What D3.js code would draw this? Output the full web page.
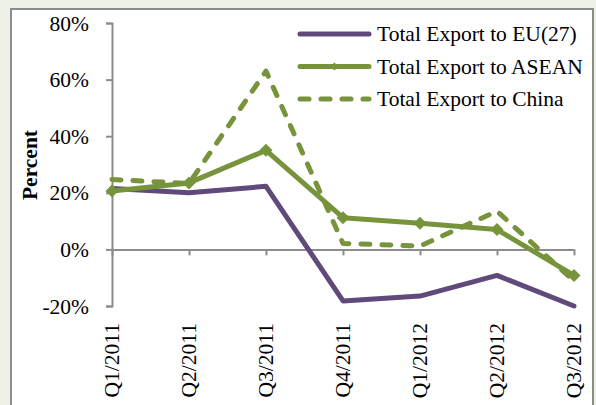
<!DOCTYPE html>
<html>
<head>
<meta charset="utf-8">
<script src="https://cdn.jsdelivr.net/npm/d3@7/dist/d3.min.js"></script>
<style>
  html, body { margin: 0; padding: 0; background: #eff2e8; }
  svg { display: block; }
  text { font-family: "Liberation Serif", "Times New Roman", serif; fill: #000; }
</style>
</head>
<body>
<svg id="chart" width="596" height="405"></svg>
<script>
// Quarterly export growth, percent change
const quarters = ["Q1/2011", "Q2/2011", "Q3/2011", "Q4/2011", "Q1/2012", "Q2/2012", "Q3/2012"];
const exportEU = [21.5, 20.0, 22.3, -18.2, -16.5, -9.2, -20.0];
const exportASEAN = [20.6, 23.5, 35.0, 11.2, 9.2, 7.0, -9.2];
const exportChina = [24.7, 23.3, 63.0, 2.1, 1.2, 13.5, -11.2];
const yTicks = [-20, 0, 20, 40, 60, 80];
const seriesNames = ["Total Export to EU(27)", "Total Export to ASEAN", "Total Export to China"];

const purple = "#604a7b";
const green = "#77933c";
const axisGrey = "#8c8c8c";
const fontSize = 21.5;
const lineWidth = 5;

const svg = d3.select("#chart");

// chart area panel
svg.append("rect")
  .attr("x", 11).attr("y", 9)
  .attr("width", 582).attr("height", 420)
  .attr("fill", "#ffffff")
  .attr("stroke", axisGrey).attr("stroke-width", 2);

const x = d3.scalePoint().domain(quarters).range([112, 574]);
const y = d3.scaleLinear().domain([-20, 80]).range([306, 23]);

// y axis
const yAxis = svg.append("g").attr("transform", "translate(112,0)")
  .call(d3.axisLeft(y).tickValues(yTicks).tickSize(6).tickPadding(17)
    .tickFormat(d => d + "%"));
yAxis.select(".domain").attr("stroke", axisGrey).attr("stroke-width", 2);
yAxis.selectAll(".tick line").attr("stroke", axisGrey).attr("stroke-width", 2);
yAxis.selectAll(".tick text")
  .attr("font-size", fontSize).attr("font-family", "Liberation Serif").attr("dy", "0.33em");

// category axis along the zero line
const xAxis = svg.append("g").attr("transform", `translate(0,${y(0)})`)
  .call(d3.axisBottom(x).tickSize(6).tickSizeOuter(0).tickFormat(""));
xAxis.select(".domain").attr("stroke", axisGrey).attr("stroke-width", 2);
xAxis.selectAll(".tick line").attr("stroke", axisGrey).attr("stroke-width", 2);

// category labels below the plot, rotated
svg.append("g").selectAll("text")
  .data(quarters)
  .join("text")
  .attr("transform", d => `translate(${x(d)},${y(-20) + 17}) rotate(-90)`)
  .attr("text-anchor", "end")
  .attr("dy", "0.33em")
  .attr("font-size", fontSize)
  .text(d => d);

// y axis title
svg.append("text")
  .attr("transform", "translate(30,165) rotate(-90)")
  .attr("text-anchor", "middle")
  .attr("dy", "0.33em")
  .attr("font-size", fontSize)
  .attr("font-weight", "bold")
  .text("Percent");

const line = d3.line()
  .x((d, i) => x(quarters[i]))
  .y(d => y(d))
  .curve(d3.curveLinear);

const diamond = "M0,-6.5L6.5,0L0,6.5L-6.5,0Z";

// EU(27)
svg.append("path")
  .attr("d", line(exportEU))
  .attr("fill", "none").attr("stroke", purple).attr("stroke-width", lineWidth)
  .attr("stroke-linejoin", "round").attr("stroke-linecap", "round");

// ASEAN with diamond markers
svg.append("path")
  .attr("d", line(exportASEAN))
  .attr("fill", "none").attr("stroke", green).attr("stroke-width", lineWidth)
  .attr("stroke-linejoin", "round").attr("stroke-linecap", "round");
svg.append("g").selectAll("path")
  .data(exportASEAN)
  .join("path")
  .attr("transform", (d, i) => `translate(${x(quarters[i])},${y(d)})`)
  .attr("d", diamond)
  .attr("fill", green);

// China, dashed
svg.append("path")
  .attr("d", line(exportChina))
  .attr("fill", "none").attr("stroke", green).attr("stroke-width", lineWidth)
  .attr("stroke-dasharray", "9,12")
  .attr("stroke-linejoin", "round").attr("stroke-linecap", "round");

// legend
const legend = svg.append("g");
const legendRows = [
  { name: seriesNames[0], color: purple, dash: null, marker: false },
  { name: seriesNames[1], color: green, dash: null, marker: true },
  { name: seriesNames[2], color: green, dash: "9,12", marker: false }
];
const rowY = [34, 66.5, 99];
legendRows.forEach((r, i) => {
  const g = legend.append("g").attr("transform", `translate(0,${rowY[i]})`);
  g.append("line")
    .attr("x1", 300).attr("x2", 369)
    .attr("stroke", r.color).attr("stroke-width", lineWidth)
    .attr("stroke-linecap", "round")
    .attr("stroke-dasharray", r.dash);
  if (r.marker) {
    g.append("path").attr("transform", "translate(334.5,0) scale(0.6)")
      .attr("d", diamond).attr("fill", r.color);
  }
  g.append("text")
    .attr("x", 377).attr("dy", "0.33em")
    .attr("font-size", fontSize)
    .text(r.name);
});
</script>
</body>
</html>
